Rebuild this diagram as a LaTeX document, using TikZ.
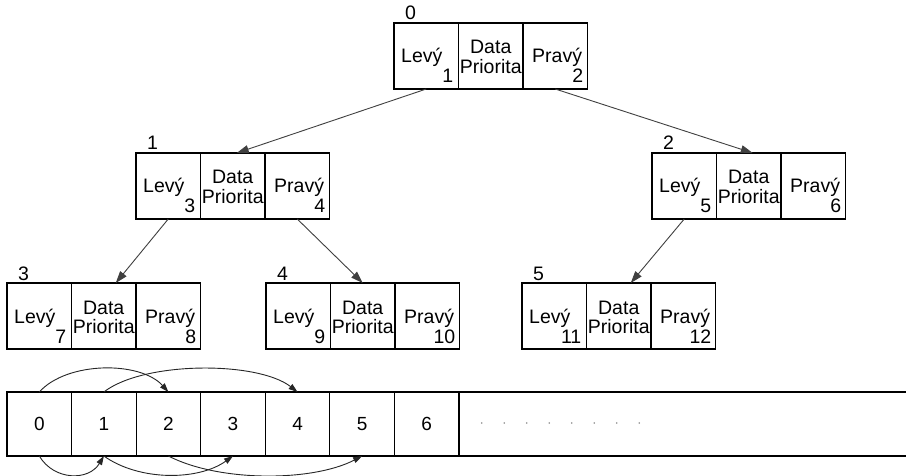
\documentclass[tikz,border=0pt]{standalone}
\usepackage{fontspec}
\setmainfont{Liberation Sans}
\usetikzlibrary{calc,arrows.meta}
\tikzset{
  cell/.style={draw=black, line width=1.1pt, minimum width=64.5pt, minimum height=66pt, inner sep=0pt, outer sep=0pt},
  acell/.style={draw=black, line width=1.1pt, minimum width=64.57pt, minimum height=64pt, inner sep=0pt, outer sep=0pt, font=\fontsize{19}{19}\selectfont},
  txt/.style={inner sep=0pt, font=\fontsize{19.5}{19.5}\selectfont},
  ptr/.style={draw=black!75, line width=0.9pt, -{Triangle[length=12pt,width=8pt]}},
  arcarrow/.style={draw=black!85, line width=0.9pt, -{Triangle[length=9pt,width=6pt]}},
}
\newcommand\treenode[6]{%
  \node[cell,anchor=north west] (#1l) at (#2,#3) {};
  \node[cell,anchor=north west] (#1d) at (#1l.north east) {};
  \node[cell,anchor=north west] (#1r) at (#1d.north east) {};
  \node[txt,anchor=base west] (#1lab) at ($(#1l.north west)+(11,-3)$) {#4};
  \node[txt,anchor=base west] (#1lt) at ($(#1l.north west)+(7,40)$) {Levý};
  \node[txt,anchor=base east] (#1ln) at ($(#1l.north east)+(-5,60)$) {#5};
  \node[txt,anchor=base] (#1dt) at ($(#1d.north)+(0,31)$) {Data};
  \node[txt,anchor=base] (#1dp) at ($(#1d.north)+(0,50.5)$) {Priorita};
  \node[txt,anchor=base west] (#1rt) at ($(#1r.north west)+(9,40)$) {Pravý};
  \node[txt,anchor=base east] (#1rn) at ($(#1r.north east)+(-4,60)$) {#6};
}
\begin{document}
\begin{tikzpicture}[x=1pt,y=-1pt]
\fill[white] (0,0) rectangle (906,476);
\useasboundingbox (0,0) rectangle (906,476);

% tree nodes
\treenode{n0}{394}{23}{0}{1}{2}
\treenode{n1}{136}{153}{1}{3}{4}
\treenode{n2}{652}{153}{2}{5}{6}
\treenode{n3}{7}{283}{3}{7}{8}
\treenode{n4}{266}{283}{4}{9}{10}
\treenode{n5}{522}{283}{5}{11}{12}

% arrow tips
\coordinate (t1) at ($(n1d.north)+(4,0)$);
\coordinate (t2) at ($(n2d.north)+(4,0)$);
\coordinate (t3) at ($(n3d.north)+(12,0)$);
\coordinate (t4) at ($(n4d.north)+(0,0)$);
\coordinate (t5) at ($(n5d.north)+(12,0)$);

\draw[ptr] (n0l.south) -- (t1);
\draw[ptr] (n0r.south) -- (t2);
\draw[ptr] (n1l.south) -- (t3);
\draw[ptr] (n1r.south) -- (t4);
\draw[ptr] (n2l.south) -- (t5);

% array
\node[acell,anchor=north west] (a0) at (7,392) {0};
\node[acell,anchor=north west] (a1) at (a0.north east) {1};
\node[acell,anchor=north west] (a2) at (a1.north east) {2};
\node[acell,anchor=north west] (a3) at (a2.north east) {3};
\node[acell,anchor=north west] (a4) at (a3.north east) {4};
\node[acell,anchor=north west] (a5) at (a4.north east) {5};
\node[acell,anchor=north west] (a6) at (a5.north east) {6};
\coordinate (endT) at (906,392);
\coordinate (endB) at (906,456);
\draw[line width=1.1pt] (a6.north east) -- (endT);
\draw[line width=1.1pt] (a6.south east) -- (endB);
\foreach \i in {0,...,7} \fill[black!45] (481.7+22.5*\i,423) circle (0.8pt);

% arcs above
\draw[arcarrow] (a0.north) .. controls +(28,-31) and +(-28,-31) .. (a2.north);
\draw[arcarrow] (a1.north) .. controls +(40,-31) and +(-40,-31) .. (a4.north);
% arcs below
\draw[arcarrow] (a0.south) .. controls +(15,25) and +(-15,25) .. (a1.south);
\draw[arcarrow] (a1.south) .. controls +(35,25) and +(-35,25) .. (a3.south);
\draw[arcarrow] (a2.south) .. controls +(50,26) and +(-50,26) .. (a5.south);
\end{tikzpicture}
\end{document}
